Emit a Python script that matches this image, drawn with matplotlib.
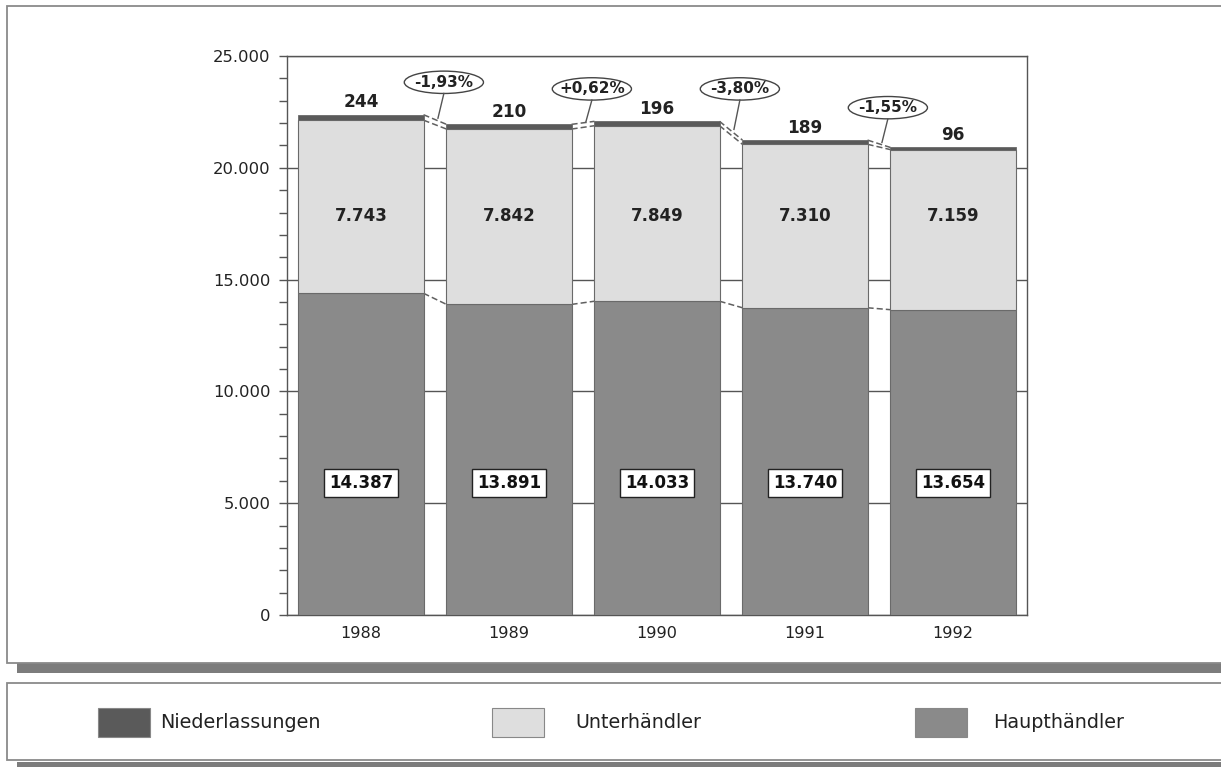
import matplotlib
matplotlib.use("Agg")
import matplotlib.pyplot as plt
from matplotlib.patches import Rectangle, Ellipse
from matplotlib.ticker import FuncFormatter, MultipleLocator

# ---- data ----
years = ["1988", "1989", "1990", "1991", "1992"]
haupthaendler = [14387, 13891, 14033, 13740, 13654]
unterhaendler = [7743, 7842, 7849, 7310, 7159]
niederlassungen = [244, 210, 196, 189, 96]
series_names = ["Niederlassungen", "Unterhändler", "Haupthändler"]
yticks = [0, 5000, 10000, 15000, 20000, 25000]

# ---- style ----
C_HAUPT = "#8a8a8a"
C_UNTER = "#dedede"
C_NIEDER = "#5a5a5a"
C_EDGE = "#6a6a6a"
C_LINE = "#555555"
C_SHADOW = "#7c7c7c"
FONT = "DejaVu Sans"

W, H = 1221, 767
fig = plt.figure(figsize=(W / 100, H / 100), dpi=100)
fig.patch.set_facecolor("white")


def fx(x):
    return x / W


def fy(y):
    return 1 - y / H


def frect(x0, y0, x1, y1, **kw):
    r = Rectangle((fx(x0), fy(y1)), fx(x1) - fx(x0), fy(y0) - fy(y1),
                  transform=fig.transFigure, **kw)
    fig.patches.append(r)
    return r


# panels and shadows
frect(17, 663, 1230, 672.5, facecolor=C_SHADOW, edgecolor="none", zorder=0)
frect(7.5, 5.5, 1230, 662.5, facecolor="white", edgecolor="#8a8a8a", lw=1.3, zorder=1)
frect(17, 762, 1230, 770, facecolor=C_SHADOW, edgecolor="none", zorder=0)
frect(7.5, 682.7, 1230, 760, facecolor="white", edgecolor="#8a8a8a", lw=1.3, zorder=1)

# ---- axes ----
ax = fig.add_axes([fx(287), fy(615), fx(1027) - fx(287), fy(56) - fy(615)])
ax.set_xlim(-0.5, 4.5)
ax.set_ylim(0, 25000)
ax.set_zorder(2)
ax.patch.set_alpha(0)

x = list(range(len(years)))
bw = 0.845
bottom2 = haupthaendler
bottom3 = [h + u for h, u in zip(haupthaendler, unterhaendler)]
totals = [b + n for b, n in zip(bottom3, niederlassungen)]

ax.bar(x, haupthaendler, width=bw, color=C_HAUPT, edgecolor=C_EDGE, lw=0.8, zorder=3)
ax.bar(x, unterhaendler, width=bw, bottom=bottom2, color=C_UNTER, edgecolor=C_EDGE, lw=0.8, zorder=3)
ax.bar(x, niederlassungen, width=bw, bottom=bottom3, color=C_NIEDER, edgecolor=C_EDGE, lw=0.6, zorder=3)

# grid
ax.set_yticks(yticks)
ax.yaxis.set_minor_locator(MultipleLocator(1000))
ax.yaxis.grid(True, color=C_LINE, lw=1.0, zorder=0)
ax.set_axisbelow(True)
ax.yaxis.set_major_formatter(FuncFormatter(lambda v, p: f"{int(v):,}".replace(",", ".")))
ax.tick_params(axis="y", which="major", direction="out", length=6, width=1, color=C_LINE,
               labelsize=11.8, pad=6, labelcolor="#222222")
ax.tick_params(axis="y", which="minor", direction="out", length=6, width=1, color=C_LINE)
ax.set_xticks(x)
ax.set_xticklabels(years)
ax.tick_params(axis="x", length=0, labelsize=11.6, pad=8, labelcolor="#222222")
for lab in ax.get_xticklabels() + ax.get_yticklabels():
    lab.set_fontfamily(FONT)
for s in ax.spines.values():
    s.set_color(C_LINE)
    s.set_linewidth(1.0)

# connector lines between bars
for levels in (bottom2, bottom3, totals):
    for i in range(len(years) - 1):
        ax.plot([i + bw / 2, i + 1 - bw / 2], [levels[i], levels[i + 1]],
                color="#606060", lw=1.1, ls=(0, (4, 2)), zorder=2)

# labels
for i in x:
    ax.text(i, totals[i] + 560, f"{niederlassungen[i]:,}".replace(",", "."),
            ha="center", va="center", fontsize=12.2, fontweight="bold",
            family=FONT, color="#222222", zorder=5)
    ax.text(i, 17850, f"{unterhaendler[i]:,}".replace(",", "."),
            ha="center", va="center", fontsize=12, fontweight="bold",
            family=FONT, color="#222222", zorder=5)
    ax.text(i, 5900, f"{haupthaendler[i]:,}".replace(",", "."),
            ha="center", va="center", fontsize=12, fontweight="bold",
            family=FONT, color="#111111", zorder=5,
            bbox=dict(boxstyle="square,pad=0.28", fc="white", ec="#222222", lw=1.0))

# percentage change ellipses
for i in range(len(years) - 1):
    pct = (totals[i + 1] - totals[i]) / totals[i] * 100
    txt = f"{pct:+.2f}%".replace(".", ",")
    if pct < 0:
        txt = txt.replace("+", "")
    ex = i + 0.56
    ey = max(totals[i], totals[i + 1]) + 1450
    ax.add_patch(Ellipse((ex, ey), 0.535, 1000, facecolor="white", edgecolor="#444444",
                         lw=1.0, zorder=6, clip_on=False))
    ax.text(ex, ey, txt, ha="center", va="center", fontsize=11, fontweight="bold",
            family=FONT, color="#222222", zorder=7, clip_on=False)
    ymid = (totals[i] + totals[i + 1]) / 2
    ax.plot([ex, i + 0.52], [ey - 500, ymid + 60], color="#555555", lw=1.0, zorder=6,
            clip_on=False)

# ---- legend ----
legend_colors = [C_NIEDER, C_UNTER, C_HAUPT]
sw_x = [98, 492, 915]
tx_x = [160, 575, 993]
for name, col, sx, tx in zip(series_names, legend_colors, sw_x, tx_x):
    frect(sx, 708, sx + 52, 737, facecolor=col, edgecolor="#888888", lw=0.8, zorder=3)
    fig.text(fx(tx), fy(722.5), name, ha="left", va="center", fontsize=13.8,
             family=FONT, color="#222222", zorder=4)

fig.savefig("out.png", dpi=100, facecolor="white")
